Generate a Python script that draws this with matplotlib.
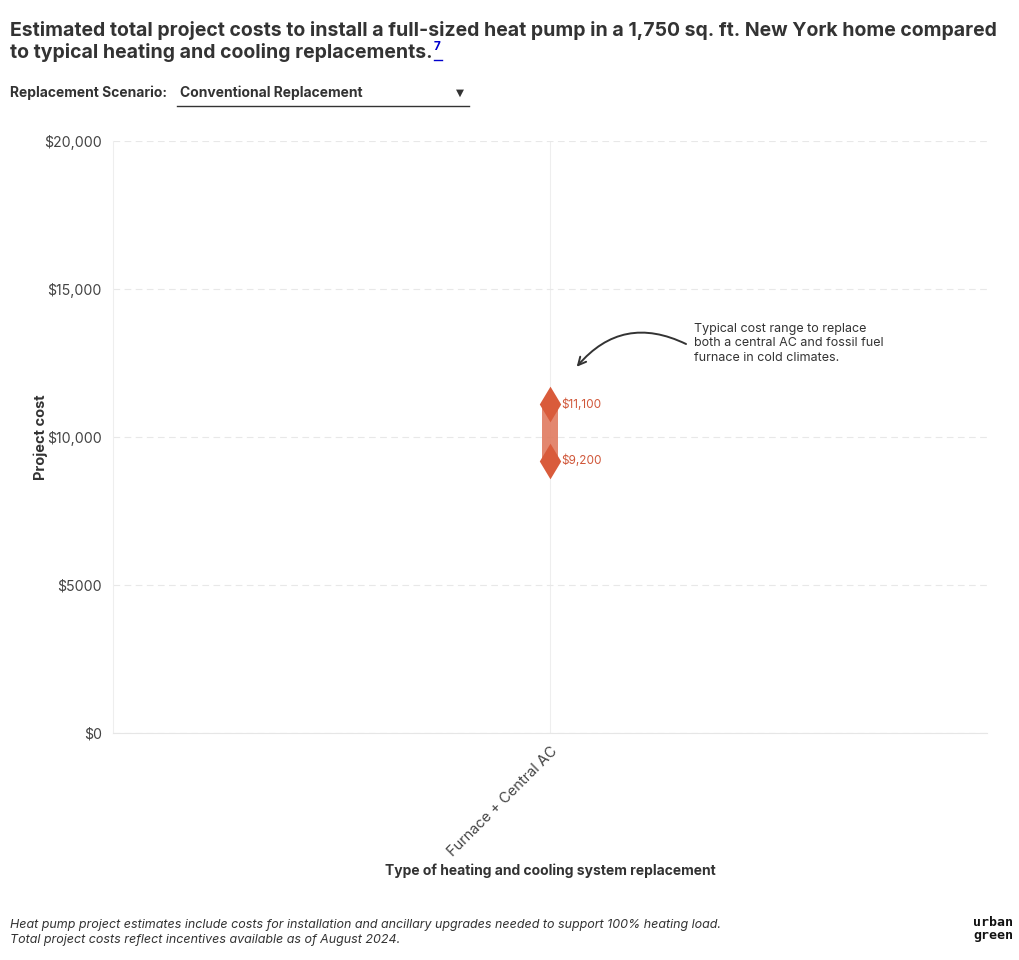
import matplotlib
matplotlib.use("Agg")
import matplotlib.pyplot as plt

plt.rcParams['font.family'] = ['Inter', 'DejaVu Sans']

# --- Data ---
categories = ["Furnace + Central AC"]
cost_low = [9200]
cost_high = [11100]
low_labels = ["$9,200"]
high_labels = ["$11,100"]
yticks = [0, 5000, 10000, 15000, 20000]
ytick_labels = ["$0", "$5000", "$10,000", "$15,000", "$20,000"]

W, H = 1020, 960
fig = plt.figure(figsize=(W / 100, H / 100), dpi=100)
ax = fig.add_axes([113 / W, 1 - 733 / H, (987 - 113) / W, (733 - 141) / H])

bar_color = "#e07a5f"
dot_color = "#d95b3b"
text_dark = "#333333"

x = list(range(len(categories)))
for i in x:
    ax.bar(i, cost_high[i] - cost_low[i], bottom=cost_low[i], width=0.038,
           color=bar_color, alpha=0.9, zorder=3)
    ax.scatter([i, i], [cost_low[i], cost_high[i]], marker="d", s=330,
               color=dot_color, zorder=4, linewidths=0)
    ax.text(i + 0.027, cost_high[i], high_labels[i], color="#d0573a",
            fontsize=8.5, va="center", ha="left")
    ax.text(i + 0.027, cost_low[i], low_labels[i], color="#d0573a",
            fontsize=8.5, va="center", ha="left")

ax.set_xlim(-1, 1)
ax.set_ylim(0, 20000)
ax.set_yticks(yticks)
ax.set_yticklabels(ytick_labels, fontsize=10.2, color="#444444")
ax.set_xticks(x)
ax.set_xticklabels(categories, rotation=45, ha="right", rotation_mode="anchor",
                   fontsize=10.5, color="#444444")
ax.tick_params(length=0, pad=8)

for s in ["top", "right"]:
    ax.spines[s].set_visible(False)
ax.spines["left"].set_color("#eeeeee")
ax.spines["bottom"].set_color("#e6e6e6")
ax.grid(axis="y", color="#e8e8e8", linestyle=(0, (6, 4)), linewidth=0.8)
ax.axvline(0, color="#eeeeee", linewidth=0.8, zorder=0)
ax.set_axisbelow(True)

ax.set_ylabel("Project cost", fontsize=10.5, fontweight="bold", color=text_dark)
ax.yaxis.set_label_coords(-(113 - 48) / (987 - 113), 0.5)
ax.set_xlabel("Type of heating and cooling system replacement", fontsize=10,
              fontweight="bold", color=text_dark)
ax.xaxis.set_label_coords(0.5, -(864 - 733) / (733 - 141))

# annotation
ax.annotate("", xy=(0.057, 12300), xytext=(0.317, 13100),
            arrowprops=dict(arrowstyle="->", color="#333333", lw=1.4,
                            connectionstyle="arc3,rad=0.4", mutation_scale=14))
ax.text(0.329, 13850, "Typical cost range to replace\nboth a central AC and fossil fuel\nfurnace in cold climates.",
        fontsize=9, color=text_dark, va="top", ha="left", linespacing=1.25)

# title
fig.text(10 / W, 1 - 30 / H, "Estimated total project costs to install a full-sized heat pump in a 1,750 sq. ft. New York home compared",
         fontsize=14, fontweight="bold", color=text_dark, va="center")
t2 = fig.text(10 / W, 1 - 52 / H, "to typical heating and cooling replacements.",
              fontsize=14, fontweight="bold", color=text_dark, va="center")
fig.canvas.draw()
bb = t2.get_window_extent()
sx = bb.x1 / W + 1 / W
fig.text(sx, 1 - 47 / H, "7", fontsize=8.5, fontweight="bold", color="#0000cc", va="center")
fig.add_artist(plt.Line2D([sx, sx + 8 / W], [1 - 60 / H, 1 - 60 / H], color="#0000cc", lw=1))

# dropdown
fig.text(10 / W, 1 - 93 / H, "Replacement Scenario:", fontsize=10, fontweight="bold",
         color=text_dark, va="center")
fig.text(180 / W, 1 - 93 / H, "Conventional Replacement", fontsize=10, fontweight="bold",
         color=text_dark, va="center")
fig.add_artist(plt.Line2D([177 / W, 469 / W], [1 - 106 / H, 1 - 106 / H], color="#333333", lw=1))
fig.text(460 / W, 1 - 93 / H, "\u25BC", fontsize=7.5, color=text_dark, va="center", ha="center",
         family=["DejaVu Sans"])

# footer
fig.text(10 / W, 1 - 925 / H, "Heat pump project estimates include costs for installation and ancillary upgrades needed to support 100% heating load.",
         fontsize=9, style="italic", color=text_dark, va="center")
fig.text(10 / W, 1 - 940 / H, "Total project costs reflect incentives available as of August 2024.",
         fontsize=9, style="italic", color=text_dark, va="center")
fig.text(993 / W, 1 - 929 / H, "urban\ngreen", fontsize=9.5, fontweight="bold", color="#111111",
         va="center", ha="center", linespacing=0.95, family=["DejaVu Sans Mono"])

fig.savefig("out.png", dpi=100, facecolor="white")
